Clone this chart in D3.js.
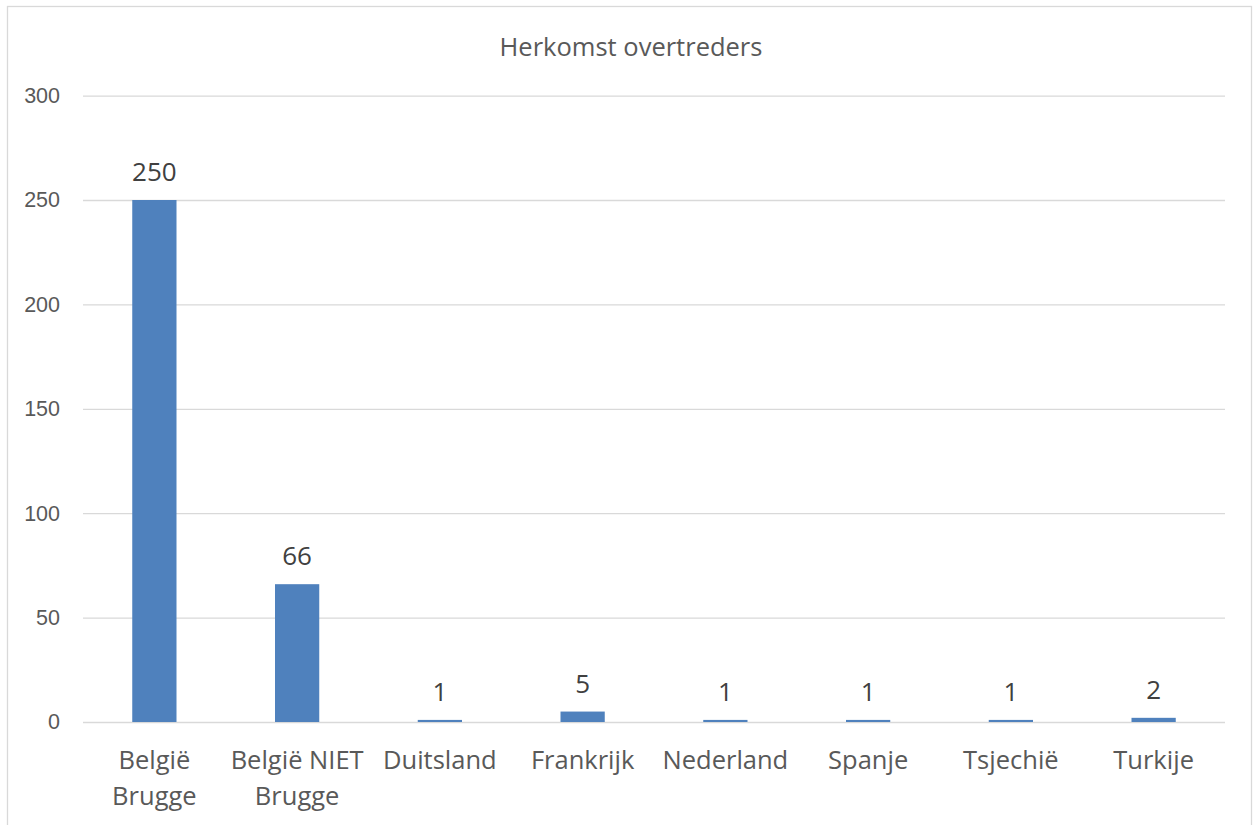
<!DOCTYPE html>
<html>
<head>
<meta charset="utf-8">
<script src="https://cdn.jsdelivr.net/npm/d3@7"></script>
<style>
  body { margin: 0; background: #fff; }
  svg { font-family: "Open Sans", sans-serif; }
  .axis path { display: none; }
  .axis line { stroke: #d9d9d9; stroke-width: 1.3; }
  .axis text { fill: #595959; font-size: 21.5px; }
</style>
</head>
<body>
<svg width="1253" height="825"></svg>
<script>
// data
const categories = ['België Brugge', 'België NIET Brugge', 'Duitsland', 'Frankrijk', 'Nederland', 'Spanje', 'Tsjechië', 'Turkije'];
const labelLines = [['België', 'Brugge'], ['België NIET', 'Brugge'], ['Duitsland'], ['Frankrijk'], ['Nederland'], ['Spanje'], ['Tsjechië'], ['Turkije']];
const counts = [250, 66, 1, 5, 1, 1, 1, 2];
const yTicks = [0, 50, 100, 150, 200, 250, 300];
const title = 'Herkomst overtreders';

let svg = d3.select('svg'),
    plotLeft = 83, plotRight = 1225, plotTop = 95.6, plotBottom = 722;

// chart frame
svg.append('rect')
    .attr('x', 7.5).attr('y', 6.5)
    .attr('width', 1244).attr('height', 830)
    .attr('fill', 'none')
    .attr('stroke', '#d9d9d9')
    .attr('stroke-width', 1.3);

let x = d3.scaleBand()
    .domain(categories)
    .range([plotLeft, plotRight])
    .paddingInner(0.69)
    .paddingOuter(0.345);

let y = d3.scaleLinear()
    .domain([0, 300])
    .range([plotBottom, plotTop]);

svg.append('text')
    .attr('x', 631)
    .attr('y', 56)
    .attr('text-anchor', 'middle')
    .attr('fill', '#595959')
    .style('font-size', '25.5px')
    .text(title);

svg.append('g')
    .attr('class', 'axis')
    .attr('transform', `translate(${plotLeft},0)`)
    .call(d3.axisLeft(y)
        .tickValues(yTicks)
        .tickSize(-(plotRight - plotLeft))
        .tickPadding(23));

let bars = svg.append('g');
bars.selectAll('rect').data(counts)
    .enter().append('rect')
    .attr('x', (d, i) => x(categories[i]))
    .attr('width', x.bandwidth())
    .attr('y', d => y(d))
    .attr('height', d => y(0) - y(d))
    .attr('fill', '#4f81bd');

bars.selectAll('text').data(counts)
    .enter().append('text')
    .attr('x', (d, i) => x(categories[i]) + x.bandwidth() / 2)
    .attr('y', d => y(d) - 19)
    .attr('text-anchor', 'middle')
    .attr('fill', '#404040')
    .style('font-size', '26px')
    .text(d => d);

let cats = svg.append('g');
cats.selectAll('text').data(labelLines)
    .enter().append('text')
    .attr('text-anchor', 'middle')
    .attr('fill', '#595959')
    .style('font-size', '25.5px')
    .each(function(lines, i) {
        d3.select(this).selectAll('tspan').data(lines)
            .enter().append('tspan')
            .attr('x', x(categories[i]) + x.bandwidth() / 2)
            .attr('y', (l, j) => 769 + j * 36)
            .text(l => l);
    });
</script>
</body>
</html>
